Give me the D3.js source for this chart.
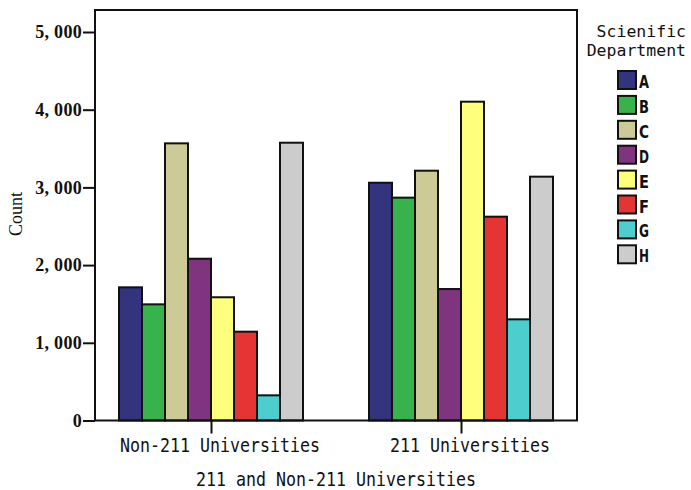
<!DOCTYPE html>
<html><head><meta charset="utf-8">
<script src="https://cdn.jsdelivr.net/npm/d3@7"></script>
<style>body{margin:0;background:#fff}svg{display:block}</style>
</head><body>
<script>
const groups = ["Non-211 Universities", "211 Universities"];
const departments = ["A","B","C","D","E","F","G","H"];
const colors = ["#34347e","#37b24d","#cccb97","#7f3480","#ffff7e","#e43434","#4dcdcd","#cccccc"];
const non211 = [1714, 1495, 3567, 2082, 1586, 1143, 324, 3575];
const u211 = [3060, 2868, 3215, 1692, 4103, 2623, 1302, 3138];
const yTicks = [0, 1000, 2000, 3000, 4000, 5000];
const series = [non211, u211];

const W = 691, H = 490;
const L = 95, R = 577, T = 10, B = 420.5;
const svg = d3.select("body").append("svg").attr("width", W).attr("height", H);

const y = d3.scaleLinear().domain([0, 5000]).range([B, 32]);
const x = d3.scalePoint().domain(groups).range([L, R]).padding(0.464);
const inner = d3.scaleBand().domain(departments).range([-92, 92]).padding(0);

const MONO = "DejaVu Sans Mono";
function mono(sel, size, perChar) {
  sel.attr("font-family", MONO).attr("font-size", size).attr("fill", "#111")
    .attr("lengthAdjust", "spacingAndGlyphs")
    .attr("textLength", function() { return this.textContent.length * perChar; });
}

// bars
groups.forEach((g, gi) => {
  svg.append("g").selectAll("rect").data(departments).join("rect")
    .attr("x", d => x(g) + inner(d))
    .attr("y", (d, i) => y(series[gi][i]))
    .attr("width", inner.bandwidth())
    .attr("height", (d, i) => B - y(series[gi][i]))
    .attr("fill", (d, i) => colors[i])
    .attr("stroke", "#111").attr("stroke-width", 2);
});

// frame
svg.append("rect").attr("x", L).attr("y", T).attr("width", R - L).attr("height", B - T)
  .attr("fill", "none").attr("stroke", "#111").attr("stroke-width", 2);

// y axis
const yAxis = svg.append("g").attr("transform", `translate(${L},0)`)
  .call(d3.axisLeft(y).tickValues(yTicks).tickSize(12).tickPadding(1)
    .tickFormat(d => d3.format(",")(d).replace(",", ", ")));
yAxis.select(".domain").remove();
yAxis.selectAll("line").attr("stroke", "#111").attr("stroke-width", 2);
yAxis.selectAll("text").attr("font-family", "Liberation Serif").attr("font-size", 18)
  .attr("font-weight", "bold").attr("fill", "#111").attr("letter-spacing", 0.3);

// x axis
const xAxis = svg.append("g").attr("transform", `translate(0,${B})`)
  .call(d3.axisBottom(x).tickSize(13).tickPadding(5));
xAxis.select(".domain").remove();
xAxis.selectAll("line").attr("stroke", "#111").attr("stroke-width", 2);
xAxis.selectAll("text").attr("dx", 8.5).call(mono, 19, 10);

// axis titles
svg.append("text").attr("x", (L + R) / 2).attr("y", 486).attr("text-anchor", "middle")
  .text("211 and Non-211 Universities").call(mono, 19, 10);
svg.append("text").attr("transform", "translate(22,214) rotate(-90)").attr("text-anchor", "middle")
  .attr("font-family", "Liberation Serif").attr("font-size", 18).attr("fill", "#111")
  .text("Count");

// legend
const lg = svg.append("g");
lg.append("text").attr("x", 686).attr("y", 37).attr("text-anchor", "end")
  .attr("font-family", MONO).attr("font-size", 16.5).attr("fill", "#111").text("Scienific");
lg.append("text").attr("x", 686).attr("y", 56).attr("text-anchor", "end")
  .attr("font-family", MONO).attr("font-size", 16.5).attr("fill", "#111").text("Department");
const items = lg.selectAll("g.item").data(departments).join("g").attr("class", "item")
  .attr("transform", (d, i) => `translate(618,${71 + i * 24.9})`);
items.append("rect").attr("width", 18).attr("height", 18)
  .attr("fill", (d, i) => colors[i]).attr("stroke", "#111").attr("stroke-width", 2);
items.append("text").attr("x", 21).attr("y", 17).text(d => d)
  .attr("font-family", "DejaVu Sans Condensed").attr("font-weight", "bold")
  .attr("font-size", 17).attr("fill", "#111")
  .attr("lengthAdjust", "spacingAndGlyphs").attr("textLength", 10);
</script>
</body></html>
